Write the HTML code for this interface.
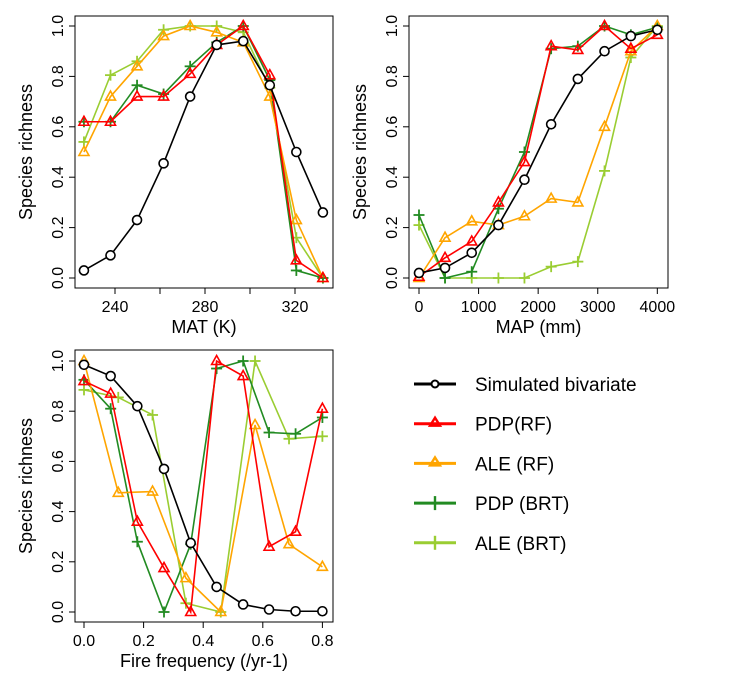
<!DOCTYPE html>
<html><head><meta charset="utf-8"><style>
html,body{margin:0;padding:0;background:#fff;}
svg{display:block;font-family:"Liberation Sans",Arial,sans-serif;}
</style></head><body>
<svg id="c" width="734" height="688" viewBox="0 0 734 688"></svg>
<script>
const matX=[226.2,238,249.8,261.6,273.4,285.2,297,308.8,320.6,332.4];
const matSim=[0.03,0.09,0.23,0.455,0.72,0.925,0.94,0.765,0.5,0.26];
const matPdpRf=[0.62,0.62,0.72,0.72,0.81,0.925,1.0,0.805,0.07,0];
const matAleRf=[0.5,0.72,0.84,0.96,1.0,0.975,0.935,0.72,0.23,0];
const matPdpBrt=[0.62,0.62,0.765,0.73,0.84,0.935,1.0,0.785,0.03,0];
const matAleBrt=[0.54,0.805,0.86,0.985,1.0,1.0,0.975,0.755,0.16,0];
const mapX=[0,437,885,1333,1770,2218,2666,3114,3556,4000];
const mapSim=[0.02,0.04,0.1,0.21,0.39,0.61,0.79,0.9,0.96,0.985];
const mapPdpRf=[0.005,0.08,0.145,0.3,0.46,0.92,0.905,1.0,0.91,0.965];
const mapAleRf=[0,0.16,0.225,0.21,0.245,0.315,0.3,0.6,0.9,1.0];
const mapPdpBrt=[0.25,0,0.025,0.275,0.5,0.91,0.92,1.0,0.965,0.995];
const mapAleBrt=[0.21,0,0,0,0,0.045,0.065,0.425,0.875,1.0];
const fireX=[0,0.0895,0.179,0.2685,0.358,0.445,0.534,0.621,0.71,0.8];
const fireXAle=[0,0.115,0.23,0.342,0.459,0.574,0.688,0.8];
const fireSim=[0.985,0.94,0.82,0.57,0.275,0.1,0.03,0.01,0.003,0.003];
const firePdpRf=[0.92,0.87,0.36,0.175,0,1.0,0.94,0.26,0.32,0.81];
const fireAleRf=[1.0,0.475,0.48,0.135,0,0.745,0.27,0.18];
const firePdpBrt=[0.925,0.81,0.28,0,0.27,0.97,1.0,0.715,0.71,0.775];
const fireAleBrt=[0.885,0.855,0.785,0.035,0,1.0,0.69,0.7];
const yTicks=["0.0","0.2","0.4","0.6","0.8","1.0"];
const matTicks=[240,260,280,300,320];
const matLabels=["240","","280","","320"];
const mapTicks=[0,1000,2000,3000,4000];
const fireTicks=[0,0.2,0.4,0.6,0.8];
const fireLabels=["0.0","0.2","0.4","0.6","0.8"];
const legendLabels=["Simulated bivariate","PDP(RF)","ALE (RF)","PDP (BRT)","ALE (BRT)"];

const NS="http://www.w3.org/2000/svg";
const svg=document.getElementById('c');
function mk(tag,attrs,parent){const e=document.createElementNS(NS,tag);for(const k in attrs)e.setAttribute(k,attrs[k]);(parent||svg).appendChild(e);return e;}
const COL={sim:'#000',pdprf:'#ff0000',alerf:'#ffa500',pdpbrt:'#228b22',alebrt:'#9acd32'};
const MK={sim:'circle',pdprf:'tri',alerf:'tri',pdpbrt:'plus',alebrt:'plus'};
function marker(g,type,x,y,col){
  if(type==='circle') mk('circle',{cx:x,cy:y,r:4.5,fill:'#fff',stroke:col,'stroke-width':1.6},g);
  else if(type==='tri') mk('polygon',{points:`${x},${y-5.5} ${x-5},${y+3.5} ${x+5},${y+3.5}`,fill:'none',stroke:col,'stroke-width':1.6},g);
  else {mk('line',{x1:x-5.5,y1:y,x2:x+5.5,y2:y,stroke:col,'stroke-width':1.8},g);mk('line',{x1:x,y1:y-5.5,x2:x,y2:y+5.5,stroke:col,'stroke-width':1.8},g);}
}
function panel(name,box,xs,ys,xticks,xlabels,title,series){
  const g=mk('g',{});
  
  
  const X=v=>box.x0+(v-box.v0)*box.k;
  const Y=v=>box.y0-v*box.ky;
  const frame=mk('rect',{x:box.l,y:box.t,width:box.r-box.l,height:box.b-box.t,fill:'none',stroke:'#000','stroke-width':1},g);
  
  
  yTicks.forEach((t,i)=>{const v=i*0.2,y=Y(v);
    mk('line',{x1:box.l,y1:y,x2:box.l-6,y2:y,stroke:'#000'},g);
    const tx=mk('text',{x:0,y:0,transform:`translate(${box.l-12},${y}) rotate(-90)`,'text-anchor':'middle','font-size':16},g);tx.textContent=t;
    
    
  });
  xticks.forEach((t,i)=>{const x=X(t);
    mk('line',{x1:x,y1:box.b,x2:x,y2:box.b+6,stroke:'#000'},g);
    if(xlabels[i]){const tx=mk('text',{x:x,y:box.b+24,'text-anchor':'middle','font-size':16},g);tx.textContent=xlabels[i];
    
    }
  });
  const xt=mk('text',{x:(box.l+box.r)/2,y:box.b+45,'text-anchor':'middle','font-size':18},g);xt.textContent=title;
  
  
  const yt=mk('text',{x:0,y:0,transform:`translate(${box.l-43},${(box.t+box.b)/2}) rotate(-90)`,'text-anchor':'middle','font-size':18},g);yt.textContent='Species richness';
  
  
  series.forEach(s=>{
    const sg=mk('g',{},g);
    
    
    const pts=s.y.map((v,i)=>X(s.x[i])+','+Y(v)).join(' ');
    mk('polyline',{points:pts,fill:'none',stroke:COL[s.key],'stroke-width':1.6},sg);
    s.y.forEach((v,i)=>marker(sg,MK[s.key],X(s.x[i]),Y(v),COL[s.key]));
  });
}
function ser(x,a,b,c,d,e,xa){return[{key:'alebrt',x:xa||x,y:e},{key:'pdpbrt',x:x,y:d},{key:'alerf',x:xa||x,y:c},{key:'pdprf',x:x,y:b},{key:'sim',x:x,y:a}];}
panel('mat',{l:75,r:333,t:16,b:288,x0:115,v0:240,k:2.25,y0:278,ky:252},matX,null,matTicks,matLabels,'MAT (K)',ser(matX,matSim,matPdpRf,matAleRf,matPdpBrt,matAleBrt));
panel('map',{l:409,r:668,t:16,b:288,x0:419,v0:0,k:0.05958,y0:278,ky:252},mapX,null,mapTicks,mapTicks.map(String),'MAP (mm)',ser(mapX,mapSim,mapPdpRf,mapAleRf,mapPdpBrt,mapAleBrt));
panel('fire',{l:75,r:333,t:350,b:622,x0:84,v0:0,k:298,y0:612,ky:251},fireX,null,fireTicks,fireLabels,'Fire frequency (/yr-1)',ser(fireX,fireSim,firePdpRf,fireAleRf,firePdpBrt,fireAleBrt,fireXAle));

const lg=mk('g',{});


['sim','pdprf','alerf','pdpbrt','alebrt'].forEach((k,i)=>{
  const y=384+i*39.7;
  const eg=mk('g',{},lg);
  
  
  mk('line',{x1:414,y1:y,x2:456,y2:y,stroke:COL[k],'stroke-width':3},eg);
  if(k==='sim') mk('circle',{cx:435,cy:y,r:3.5,fill:'#fff',stroke:'#000','stroke-width':2},eg);
  else if(MK[k]==='tri') mk('polygon',{points:`435,${y-6} 430,${y+2} 440,${y+2}`,fill:'none',stroke:COL[k],'stroke-width':2.4},eg);
  else mk('line',{x1:435,y1:y-7,x2:435,y2:y+7,stroke:COL[k],'stroke-width':2.4},eg);
  const t=mk('text',{x:475,y:y+7,'font-size':19},eg);t.textContent=legendLabels[i];
});
</script>
</body></html>
